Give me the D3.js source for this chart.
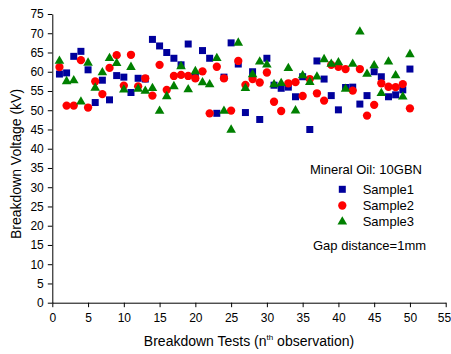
<!DOCTYPE html>
<html>
<head>
<meta charset="utf-8">
<script src="https://cdn.jsdelivr.net/npm/d3@7/dist/d3.min.js"></script>
<style>
  html, body { margin: 0; padding: 0; background: #fff; }
  svg { display: block; font-family: "Liberation Sans", Arial, sans-serif; }
</style>
</head>
<body>
<svg id="chart" width="451" height="354"></svg>
<script>
const tests = d3.range(1, 51);
const sample1 = [59.4,59.7,64.0,65.3,60.5,52.0,57.8,52.7,59.0,58.6,
                 54.6,58.3,58.1,68.4,66.7,65.0,63.5,61.8,67.2,58.5,
                 65.5,63.5,49.2,58.6,67.5,62.0,49.4,60.0,47.6,63.5,
                 56.5,55.7,56.0,53.5,58.7,45.0,62.8,58.1,53.8,50.1,
                 55.9,56.0,51.6,53.8,60.0,58.7,53.5,54.0,55.3,60.7];
const sample2 = [61.2,51.2,51.2,63.0,50.7,57.5,54.2,61.0,64.3,56.4,
                 64.4,56.2,58.3,53.8,61.8,55.3,58.9,59.2,58.9,58.3,
                 60.1,49.2,61.3,58.3,49.9,62.8,56.6,58.1,57.2,59.8,
                 52.2,49.8,57.0,57.3,53.7,58.1,54.4,52.5,61.8,61.3,
                 60.7,55.1,60.7,48.6,51.4,57.0,56.1,56.0,56.8,50.5];
const sample3 = [62.8,57.5,57.7,52.2,62.3,55.8,59.8,63.5,62.2,55.3,
                 61.2,55.5,55.0,55.7,49.8,53.6,56.2,61.4,55.4,60.1,
                 57.2,56.7,63.5,49.8,44.9,67.5,55.7,59.3,62.6,61.8,
                 56.7,57.0,60.9,49.9,59.0,57.3,58.7,63.2,62.0,62.4,
                 55.5,62.0,70.4,59.4,61.6,54.4,62.6,59.0,53.5,64.5];
const xTicks = d3.range(0, 56, 5);
const yTicks = d3.range(0, 76, 5);
const seriesNames = ["Sample1", "Sample2", "Sample3"];

const svg = d3.select("#chart");
const x = d3.scaleLinear().domain([0, 55]).range([52.3, 445.7]);
const y = d3.scaleLinear().domain([0, 75]).range([302.7, 14]);

const series = [
  { name: seriesNames[0], values: sample1, symbol: d3.symbolSquare, size: 49, color: "#00009c" },
  { name: seriesNames[1], values: sample2, symbol: d3.symbolCircle, size: 54, color: "#ff0000" },
  { name: seriesNames[2], values: sample3, symbol: d3.symbolTriangle, size: 40, color: "#008000" }
];

// Axes
const gx = svg.append("g").attr("transform", `translate(0,${y(0)})`);
gx.call(d3.axisBottom(x).tickValues(d3.range(0, 55.1, 2.5)).tickSize(2).tickFormat("").tickSizeOuter(0));
gx.call(d3.axisBottom(x).tickValues(xTicks).tickSize(4.5).tickSizeOuter(0).tickPadding(6));
gx.selectAll("text").attr("font-size", 12).attr("fill", "#000").attr("font-family", "Liberation Sans, Arial, sans-serif");
gx.selectAll("line,path").attr("stroke", "#000");
gx.selectAll(".tick text").filter(d => d === 55).attr("dx", -1.8);

const gy = svg.append("g").attr("transform", `translate(${x(0)},0)`);
gy.call(d3.axisLeft(y).tickValues(d3.range(0, 75.1, 2.5)).tickSize(2).tickFormat("").tickSizeOuter(0));
gy.call(d3.axisLeft(y).tickValues(yTicks).tickSize(4.5).tickSizeOuter(0).tickPadding(4));
gy.selectAll("text").attr("font-size", 12).attr("fill", "#000").attr("font-family", "Liberation Sans, Arial, sans-serif");
gy.selectAll("line,path").attr("stroke", "#000");

// Points
series.forEach(s => {
  svg.append("g").selectAll("path")
    .data(s.values)
    .join("path")
    .attr("transform", (d, i) => `translate(${x(tests[i])},${y(d)})`)
    .attr("d", d3.symbol().type(s.symbol).size(s.size))
    .attr("fill", s.color);
});

// Axis titles
svg.append("text")
  .attr("transform", `translate(21,164) rotate(-90)`)
  .attr("text-anchor", "middle")
  .attr("font-size", 14)
  .text("Breakdown Voltage (kV)");

const xt = svg.append("text")
  .attr("x", (x(0) + x(55)) / 2)
  .attr("y", 346)
  .attr("text-anchor", "middle")
  .attr("font-size", 14);
xt.append("tspan").text("Breakdown Tests (n");
xt.append("tspan").attr("font-size", 8).attr("dy", -6).text("th");
xt.append("tspan").attr("dy", 6).text(" observation)");

// Legend
svg.append("text").attr("x", 310).attr("y", 173.5).attr("font-size", 13).text("Mineral Oil: 10GBN");
series.forEach((s, i) => {
  const cy = 189.3 + i * 16.2;
  svg.append("path")
    .attr("transform", `translate(342.3,${cy})`)
    .attr("d", d3.symbol().type(s.symbol).size(s.size))
    .attr("fill", s.color);
  svg.append("text").attr("x", 362.7).attr("y", cy + 4.6).attr("font-size", 13).text(s.name);
});
svg.append("text").attr("x", 313).attr("y", 249.5).attr("font-size", 13).text("Gap distance=1mm");
</script>
</body>
</html>
